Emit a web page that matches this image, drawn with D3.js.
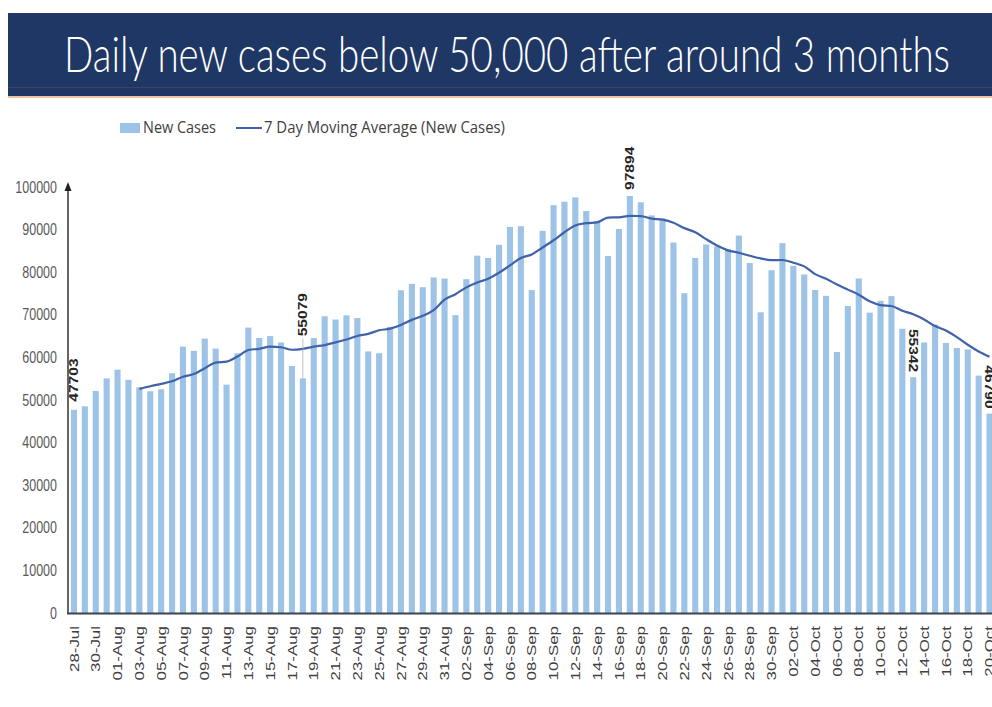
<!DOCTYPE html>
<html>
<head>
<meta charset="utf-8">
<script src="https://cdn.jsdelivr.net/npm/d3@7"></script>
<style>
  body { margin: 0; background: #fff; }
  svg { display: block; overflow: hidden; }
</style>
</head>
<body>
<svg id="chart" width="992" height="707"></svg>
<script>
// dates, 28-Jul to 20-Oct
const dates = [
  "28-Jul","29-Jul","30-Jul","31-Jul",
  "01-Aug","02-Aug","03-Aug","04-Aug","05-Aug","06-Aug","07-Aug","08-Aug","09-Aug","10-Aug",
  "11-Aug","12-Aug","13-Aug","14-Aug","15-Aug","16-Aug","17-Aug","18-Aug","19-Aug","20-Aug",
  "21-Aug","22-Aug","23-Aug","24-Aug","25-Aug","26-Aug","27-Aug","28-Aug","29-Aug","30-Aug","31-Aug",
  "01-Sep","02-Sep","03-Sep","04-Sep","05-Sep","06-Sep","07-Sep","08-Sep","09-Sep","10-Sep",
  "11-Sep","12-Sep","13-Sep","14-Sep","15-Sep","16-Sep","17-Sep","18-Sep","19-Sep","20-Sep",
  "21-Sep","22-Sep","23-Sep","24-Sep","25-Sep","26-Sep","27-Sep","28-Sep","29-Sep","30-Sep",
  "01-Oct","02-Oct","03-Oct","04-Oct","05-Oct","06-Oct","07-Oct","08-Oct","09-Oct","10-Oct",
  "11-Oct","12-Oct","13-Oct","14-Oct","15-Oct","16-Oct","17-Oct","18-Oct","19-Oct","20-Oct"
];

const newCases = [
  47703, 48513, 52123, 55078,
  57118, 54735, 52972, 52050, 52509, 56282, 62538, 61537, 64399, 62064,
  53601, 60963, 66999, 64553, 65002, 63490, 57982, 55079, 64531, 69652,
  68898, 69878, 69239, 61408, 60975, 67151, 75760, 77266, 76472, 78761, 78512,
  69921, 78357, 83883, 83341, 86432, 90632, 90802, 75809, 89706, 95735,
  96551, 97570, 94372, 92071, 83809, 90123, 97894, 96424, 93337, 92605,
  86961, 75083, 83347, 86508, 86052, 85362, 88600, 82170, 70589, 80472,
  86821, 81484, 79476, 75829, 74442, 61267, 72049, 78524, 70496, 73272,
  74383, 66732, 55342, 63509, 67708, 63371, 62212, 61871, 55722, 46790
];

// 7 day moving average, from 03-Aug on
const movingAvg = [
  null, null, null, null, null, null,
  52606, 53227, 53798, 54392, 55458, 56089, 57470, 58768,
  58990, 60198, 61729, 62017, 62512, 62382, 61799, 62010, 62519, 62898,
  63519, 64216, 65037, 65526, 66369, 66743, 67616, 68811, 69753, 71113, 73557,
  74835, 76436, 77596, 78464, 79887, 81583, 83338, 84179, 85801, 87494,
  89381, 90972, 91506, 91688, 92831, 92890, 93199, 93180, 92576, 92323,
  91593, 90347, 89379, 87752, 86270, 85131, 84559, 83875, 83233, 82822,
  82867, 82214, 81373, 79549, 78445, 77113, 75910, 74724, 73155, 72268,
  72062, 70960, 70114, 68894, 67349, 66331, 64751, 62964, 61391, 60169
];

const yTicks = [0, 10000, 20000, 30000, 40000, 50000, 60000, 70000, 80000, 90000, 100000];

// labelled bars: date, rotation direction
const callouts = [
  { date: "28-Jul", up: true, gap: 8 },
  { date: "18-Aug", up: true, gap: 42 },
  { date: "17-Sep", up: true, gap: 6 },
  { date: "13-Oct", up: false, gap: 5 },
  { date: "20-Oct", up: false, gap: 5 }
];

const svg = d3.select("#chart");

// title banner
svg.append("rect").attr("x", 8).attr("y", 13).attr("width", 984).attr("height", 83).attr("fill", "#1f3764");
svg.append("rect").attr("x", 8).attr("y", 87).attr("width", 984).attr("height", 1).attr("fill", "#4e3c5e");
svg.append("rect").attr("x", 8).attr("y", 96).attr("width", 984).attr("height", 2).attr("fill", "#f2c49b");
svg.append("text")
  .attr("transform", "translate(64,72) scale(1,1.25)")
  .attr("textLength", 886)
  .attr("lengthAdjust", "spacingAndGlyphs")
  .attr("fill", "#fff")
  .style("font-family", "Lato, 'Open Sans', sans-serif")
  .style("font-weight", "300")
  .style("font-size", "40px")
  .text("Daily new cases below 50,000 after around 3 months");

const x = d3.scaleBand().domain(dates).range([68.5, 995]).paddingInner(0.44).paddingOuter(0.22);
const y = d3.scaleLinear().domain([0, 100000]).range([613, 187]);
const cx = d => x(d) + x.bandwidth() / 2;

// bars
svg.append("g").selectAll("rect")
  .data(dates)
  .join("rect")
    .attr("x", d => x(d))
    .attr("width", x.bandwidth())
    .attr("y", (d, i) => y(newCases[i]))
    .attr("height", (d, i) => y(0) - y(newCases[i]))
    .attr("fill", "#9dc3e6");

// moving average line
const line = d3.line()
  .defined(d => d[1] != null)
  .x(d => cx(d[0]))
  .y(d => y(d[1]))
  .curve(d3.curveMonotoneX);

svg.append("path")
  .datum(dates.map((d, i) => [d, movingAvg[i]]))
  .attr("d", line)
  .attr("fill", "none")
  .attr("stroke", "#3f62a8")
  .attr("stroke-width", 2.2);

// axes
svg.append("line").attr("x1", 68).attr("x2", 68).attr("y1", 614).attr("y2", 190)
  .attr("stroke", "#333").attr("stroke-width", 1.5);
svg.append("path").attr("d", "M68,182 L64.5,191 L71.5,191 Z").attr("fill", "#222");
svg.append("line").attr("x1", 67).attr("x2", 992).attr("y1", 613.5).attr("y2", 613.5)
  .attr("stroke", "#3a4450").attr("stroke-width", 2.2);

const tickFont = "'Liberation Sans', Arial, sans-serif";

svg.append("g").selectAll("text")
  .data(yTicks)
  .join("text")
    .attr("transform", d => `translate(57,${y(d)}) scale(1,1.3)`)
    .attr("dy", "0.35em")
    .attr("text-anchor", "end")
    .attr("fill", "#595959")
    .style("font-family", tickFont)
    .style("font-size", "12.5px")
    .text(d => d);

svg.append("g").selectAll("text")
  .data(dates.filter((d, i) => i % 2 === 0))
  .join("text")
    .attr("transform", d => `translate(${cx(d)},626) rotate(-90) scale(1.3,1)`)
    .attr("dy", "0.35em")
    .attr("text-anchor", "end")
    .attr("fill", "#404040")
    .style("font-family", tickFont)
    .style("font-size", "13px")
    .text(d => d);

// callout labels
callouts.forEach(c => {
  const i = dates.indexOf(c.date);
  const px = cx(c.date);
  const top = y(newCases[i]);
  const base = top - c.gap;
  if (c.gap > 20) {
    svg.append("line").attr("x1", px).attr("x2", px).attr("y1", top).attr("y2", base + 2)
      .attr("stroke", "#b0b0b0").attr("stroke-width", 0.8);
  }
  svg.append("text")
    .attr("transform", c.up
      ? `translate(${px},${base}) rotate(-90) scale(1.3,1)`
      : `translate(${px},${base}) rotate(90) scale(1.3,1)`)
    .attr("dy", "0.35em")
    .attr("text-anchor", c.up ? "start" : "end")
    .attr("fill", "#262626")
    .style("font-family", tickFont)
    .style("font-size", "12px")
    .style("font-weight", "bold")
    .text(newCases[i]);
});

// legend
const legendFont = "'Open Sans', 'Liberation Sans', sans-serif";
svg.append("rect").attr("x", 120).attr("y", 123).attr("width", 20).attr("height", 10).attr("fill", "#9dc3e6");
svg.append("text")
  .attr("transform", "translate(143,133) scale(1,1.3)")
  .attr("textLength", 73).attr("lengthAdjust", "spacingAndGlyphs")
  .attr("fill", "#404040")
  .style("font-family", legendFont).style("font-size", "13px")
  .text("New Cases");
svg.append("line").attr("x1", 236).attr("x2", 262).attr("y1", 128).attr("y2", 128)
  .attr("stroke", "#3f62a8").attr("stroke-width", 2);
svg.append("text")
  .attr("transform", "translate(264,133) scale(1,1.3)")
  .attr("textLength", 241).attr("lengthAdjust", "spacingAndGlyphs")
  .attr("fill", "#404040")
  .style("font-family", legendFont).style("font-size", "13px")
  .text("7 Day Moving Average (New Cases)");
</script>
</body>
</html>
